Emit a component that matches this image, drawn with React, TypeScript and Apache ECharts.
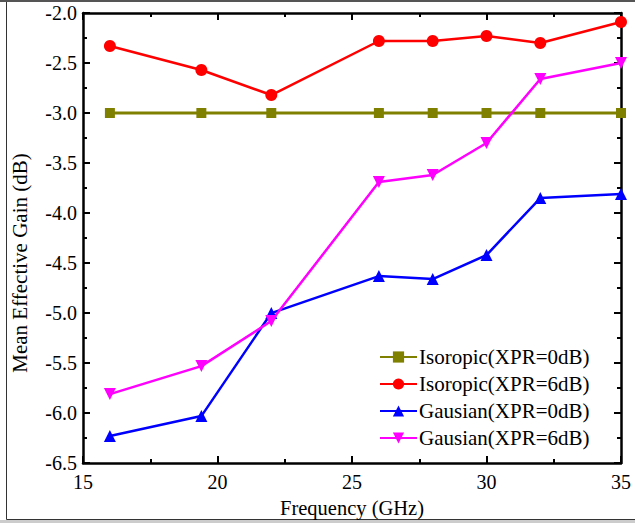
import React, { useEffect, useRef } from "react";
import * as echarts from "echarts";

const freqs = [16, 19.4, 22, 26, 28, 30, 32, 35];
const isoXpr0 = [-3.0, -3.0, -3.0, -3.0, -3.0, -3.0, -3.0, -3.0];
const isoXpr6 = [-2.33, -2.57, -2.82, -2.28, -2.28, -2.23, -2.30, -2.09];
const gauXpr0 = [-6.23, -6.03, -5.0, -4.63, -4.66, -4.42, -3.85, -3.81];
const gauXpr6 = [-5.81, -5.53, -5.08, -3.69, -3.62, -3.30, -2.66, -2.50];
const seriesNames = [
  "Isoropic(XPR=0dB)",
  "Isoropic(XPR=6dB)",
  "Gausian(XPR=0dB)",
  "Gausian(XPR=6dB)",
];
const xTitle = "Frequency (GHz)";
const yTitle = "Mean Effective Gain (dB)";

const FONT = "Liberation Serif";

export default function App() {
  const ref = useRef<HTMLDivElement>(null);
  useEffect(() => {
    document.body.style.margin = "0";
    const chart = echarts.init(ref.current!, undefined, { renderer: "svg" });
    const pair = (ys: number[]) => freqs.map((x, i) => [x, ys[i]]);
    const mk = (name: string, ys: number[], color: string, symbol: string, size: number, width: number, rotate = 0) => ({
      name,
      type: "line",
      data: pair(ys),
      symbol,
      symbolSize: size,
      symbolRotate: rotate,
      lineStyle: { color, width },
      itemStyle: { color },
      clip: false,
    });
    const baseX = {
      type: "value",
      min: 15,
      max: 35,
      interval: 5,
      splitLine: { show: false },
      minorTick: { show: true, splitNumber: 2, length: 4, lineStyle: { color: "#000", width: 2 } },
      axisTick: { inside: true, length: 7, lineStyle: { color: "#000", width: 2 } },
      axisLine: { onZero: false, lineStyle: { color: "#000", width: 2.5 } },
    };
    const baseY = {
      type: "value",
      min: -6.5,
      max: -2.0,
      interval: 0.5,
      splitLine: { show: false },
      minorTick: { show: true, splitNumber: 2, length: 4, lineStyle: { color: "#000", width: 2 } },
      axisTick: { inside: true, length: 7, lineStyle: { color: "#000", width: 2 } },
      axisLine: { onZero: false, lineStyle: { color: "#000", width: 2.5 } },
    };
    chart.setOption({
      animation: false,
      backgroundColor: "#fff",
      grid: { left: 83, right: 14, top: 13, bottom: 56, containLabel: false },
      xAxis: [
        {
          ...baseX,
          position: "bottom",
          name: xTitle,
          nameLocation: "middle",
          nameGap: 28,
          nameTextStyle: { fontFamily: FONT, fontSize: 20.5, color: "#000" },
          axisLabel: { fontFamily: FONT, fontSize: 20, color: "#000", margin: 9 },
        },
        { ...baseX, position: "top", axisLabel: { show: false } },
      ],
      yAxis: [
        {
          ...baseY,
          position: "left",
          axisLabel: {
            fontFamily: FONT,
            fontSize: 20,
            color: "#000",
            margin: 6,
            formatter: (v: number) => v.toFixed(1),
          },
        },
        { ...baseY, position: "right", axisLabel: { show: false } },
      ],
      legend: {
        orient: "vertical",
        left: 374,
        top: 341,
        itemWidth: 37,
        itemHeight: 14,
        itemGap: 5,
        textStyle: { fontFamily: FONT, fontSize: 21, lineHeight: 22, color: "#000", padding: [0, 0, 0, -3] },
        data: seriesNames,
      },
      series: [
        mk(seriesNames[0], isoXpr0, "#808000", "rect", 10, 3),
        mk(seriesNames[1], isoXpr6, "#ff0000", "circle", 12, 2.5),
        mk(seriesNames[2], gauXpr0, "#0000ff", "triangle", 12, 2.5),
        mk(seriesNames[3], gauXpr6, "#ff00ff", "triangle", 12, 2.5, 180),
      ],
      graphic: [
        {
          type: "text",
          x: 20,
          y: 263,
          rotation: Math.PI / 2,
          style: {
            text: yTitle,
            fontFamily: FONT,
            fontSize: 21,
            fill: "#000",
            align: "center",
            verticalAlign: "middle",
          },
          silent: true,
        },
        { type: "rect", shape: { x: 0, y: 0, width: 635, height: 2 }, style: { fill: "#555" }, silent: true },
        { type: "line", shape: { x1: 6.5, y1: 2, x2: 6.5, y2: 519.5 }, style: { stroke: "#333", lineWidth: 1 }, silent: true },
        { type: "line", shape: { x1: 6.5, y1: 519.5, x2: 635, y2: 519.5 }, style: { stroke: "#333", lineWidth: 1 }, silent: true },
        { type: "rect", shape: { x: 0, y: 520, width: 635, height: 3 }, style: { fill: "#ccc" }, silent: true },
      ],
    });
    return () => chart.dispose();
  }, []);
  return <div ref={ref} style={{ width: 635, height: 523 }} />;
}
